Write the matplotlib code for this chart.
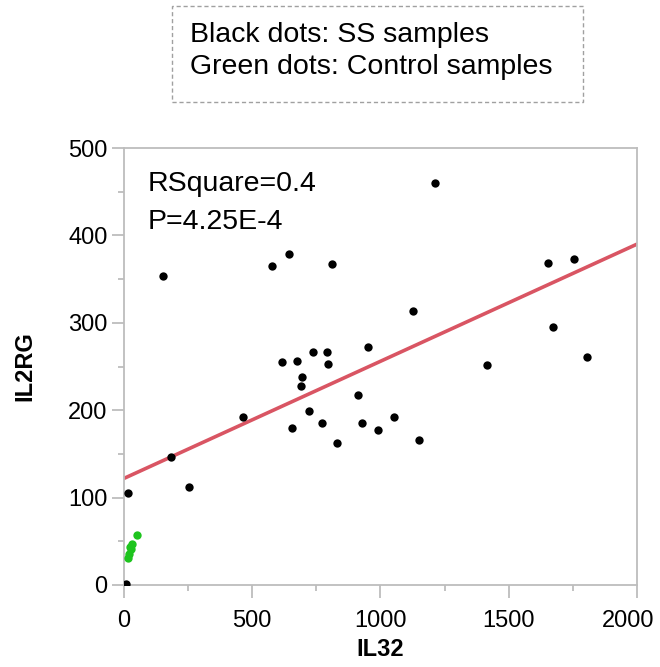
import numpy as np
import matplotlib.pyplot as plt
from matplotlib.ticker import MultipleLocator
from matplotlib.transforms import ScaledTranslation

plt.rcParams['font.family'] = ['Liberation Sans', 'DejaVu Sans']

# SS samples (black dots)
ss_il32 = [153, 578, 644, 812, 617, 674, 738, 793, 797, 952, 693, 691,
           464, 723, 653, 771, 829, 912, 928, 992, 182, 254, 14, 6,
           1211, 1126, 1655, 1754, 1672, 1804, 1414, 1054, 1150]
ss_il2rg = [354, 365, 379, 367, 255, 256, 267, 267, 253, 272, 238, 228,
            192, 199, 180, 185, 163, 217, 185, 177, 147, 112, 105, 1,
            460, 314, 368, 373, 295, 261, 252, 192, 166]

# Control samples (green dots)
ctrl_il32 = [50, 30, 28, 20, 17, 22]
ctrl_il2rg = [57, 47, 41, 36, 31, 43]

# regression line end points
fit_x = [0, 2000]
fit_y = [122, 390]

x_ticks = [0, 500, 1000, 1500, 2000]

fig = plt.figure(figsize=(6.6, 6.67), dpi=100)
ax = fig.add_axes([0.188, 0.123, 0.777, 0.655])

ax.plot(fit_x, fit_y, color='#d95563', lw=2.6, zorder=2)
ax.scatter(ss_il32, ss_il2rg, s=36, color='black', zorder=3, linewidths=0)
ax.scatter(ctrl_il32, ctrl_il2rg, s=36, color='#1ec41e', zorder=3, linewidths=0)

ax.set_xlim(0, 2000)
ax.set_ylim(0, 500)
ax.set_xticks(x_ticks)
ax.xaxis.set_minor_locator(MultipleLocator(250))
ax.yaxis.set_major_locator(MultipleLocator(100))
ax.yaxis.set_minor_locator(MultipleLocator(50))

for s in ax.spines.values():
    s.set_color('#bdbdbd')
    s.set_linewidth(1.3)
ax.tick_params(which='both', direction='out', color='#bdbdbd', width=1.3)
ax.tick_params(which='major', length=9, labelsize=17, pad=3)
ax.tick_params(axis='x', which='major', pad=9)
ax.tick_params(which='minor', length=4.5)

# last x label is pulled inside the figure, like the original
last = ax.get_xticklabels()[-1]
last.set_horizontalalignment('right')
last.set_transform(last.get_transform() + ScaledTranslation(0.17, 0, fig.dpi_scale_trans))

ax.set_xlabel('IL32', fontsize=17, fontweight='bold', labelpad=4)
ax.set_ylabel('IL2RG', fontsize=17, fontweight='bold', labelpad=23)

ax.text(0.045, 0.918, 'RSquare=0.4', transform=ax.transAxes, fontsize=20.5,
        va='center', ha='left')
ax.text(0.045, 0.83, 'P=4.25E-4', transform=ax.transAxes, fontsize=20.5,
        va='center', ha='left')

# annotation box at top
fig.patches.append(plt.Rectangle((172 / 660, 1 - 102 / 667), 411 / 660, 96 / 667,
                                 transform=fig.transFigure, fill=False,
                                 edgecolor='#a0a0a0', lw=1.0, ls=(0, (3, 2))))
fig.text(190 / 660, 1 - 35 / 667, 'Black dots: SS samples', fontsize=20.5, va='center')
fig.text(190 / 660, 1 - 67 / 667, 'Green dots: Control samples', fontsize=20.5, va='center')

fig.savefig('out.png', dpi=100)
